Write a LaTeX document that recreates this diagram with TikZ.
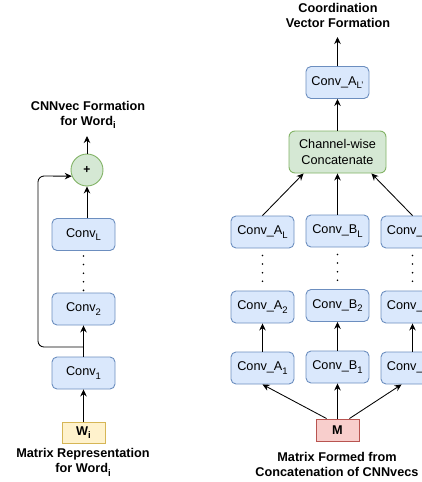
\documentclass[tikz,border=0pt]{standalone}
\usepackage{fontspec}
\setmainfont{Liberation Sans}
\usetikzlibrary{arrows.meta,calc}
\definecolor{bluefill}{HTML}{DAE8FC}
\definecolor{blueline}{HTML}{6C8EBF}
\definecolor{greenfill}{HTML}{D5E8D4}
\definecolor{greenline}{HTML}{82B366}
\definecolor{yellowfill}{HTML}{FFF2CC}
\definecolor{yellowline}{HTML}{D6B656}
\definecolor{redfill}{HTML}{F8CECC}
\definecolor{redline}{HTML}{B85450}
\newcommand{\mysub}[1]{\raisebox{-0.28em}{\fontsize{9.5}{10}\selectfont #1}}
\begin{document}
\begin{tikzpicture}[x=1pt,y=-1pt,
  txt/.style={font=\fontsize{12.7}{15.2}\selectfont},
  conv/.style={txt, draw=blueline, fill=bluefill, rounded corners=5pt, minimum width=63pt, minimum height=32pt, inner sep=0pt, line width=0.9pt},
  catbox/.style={txt, draw=greenline, fill=greenfill, rounded corners=6pt, minimum width=97pt, minimum height=42pt, inner sep=0pt, line width=0.9pt, align=center},
  plusnode/.style={circle, draw=greenline, fill=greenfill, minimum size=32pt, inner sep=0pt, line width=0.9pt, font=\bfseries\fontsize{12}{14}\selectfont},
  wbox/.style={txt, font=\bfseries\fontsize{12.7}{15.2}\selectfont, draw=yellowline, fill=yellowfill, minimum width=43pt, minimum height=21pt, inner sep=0pt, line width=0.9pt},
  mbox/.style={txt, font=\bfseries\fontsize{12.7}{15.2}\selectfont, draw=redline, fill=redfill, minimum width=43pt, minimum height=22pt, inner sep=0pt, line width=0.9pt},
  lbl/.style={font=\bfseries\fontsize{12.7}{15.2}\selectfont, align=center, inner sep=0pt},
  arr/.style={-{Stealth[length=7pt,width=6.5pt]}, line width=0.85pt},
  dotline/.style={line width=1.8pt, dash pattern=on 0pt off 8.6pt, line cap=round}
]
\useasboundingbox (0,0) rectangle (422,482);
\clip (0,0) rectangle (422,482);

% ---------- left part ----------
\node[lbl] (t1) at (88,115) {CNNvec Formation\\for Word\mysub{i}};
\coordinate (tip1) at (87,136);
\node[plusnode] (plus) at (87,170) {+};
\node[conv] (cL) at (83.5,234.5) {Conv\mysub{L}};
\node[conv] (c2) at (83.5,309) {Conv\mysub{2}};
\node[conv] (c1) at (83.5,373) {Conv\mysub{1}};
\node[wbox] (w) at (83.5,432.5) {W\mysub{i}};
\node[lbl] (t2) at (83,462.5) {Matrix Representation\\for Word\mysub{i}};
\coordinate (fb) at (83.5,347);
\coordinate (fbA) at (38,347);
\coordinate (fbB) at (38,176);

\draw[arr] (plus.north) -- (tip1);
\draw[arr] (plus.south |- cL.north) -- (plus.south);
\draw[dotline] ($(cL.south)+(0,5)$) -- ($(c2.north)+(0,-1)$);
\draw[arr] (c1.north) -- (c2.south);
\draw[arr] (w.north) -- (c1.south);
\draw[arr, rounded corners=6pt] (fb) -- (fbA) -- (fbB) -- (plus.202);

% ---------- right part ----------
\node[lbl] (t3) at (338,15.5) {Coordination\\Vector Formation};
\coordinate (tip3) at (337.5,37);
\node[conv] (top) at (337.5,82.5) {Conv\_A\mysub{L'}};
\node[catbox] (cat) at (337.5,152) {Channel-wise\\Concatenate};

\node[conv] (aL) at (262.5,232) {Conv\_A\mysub{L}};
\node[conv] (a2) at (262.5,307) {Conv\_A\mysub{2}};
\node[conv] (a1) at (262.5,368) {Conv\_A\mysub{1}};

\node[conv] (bL) at (337.5,231) {Conv\_B\mysub{L}};
\node[conv] (b2) at (337.5,305.5) {Conv\_B\mysub{2}};
\node[conv] (b1) at (337.5,367) {Conv\_B\mysub{1}};

\node[conv] (xL) at (412.5,232) {Conv\_C\mysub{L}};
\node[conv] (x2) at (412.5,307) {Conv\_C\mysub{2}};
\node[conv] (x1) at (412.5,368) {Conv\_C\mysub{1}};

\node[mbox] (m) at (337.5,430) {M};
\node[lbl] (t4) at (337,464.5) {Matrix Formed from\\Concatenation of CNNvecs};

\draw[arr] (top.north) -- (tip3);
\draw[arr] (cat.north) -- (top.south);
\draw[arr] (aL.north) -- ($(cat.south west)+(15,0)$);
\draw[arr] (bL.north) -- (cat.south);
\draw[arr] (xL.north) -- ($(cat.south east)+(-15,0)$);

\draw[dotline] ($(aL.south)+(0,7)$) -- ($(a2.north)+(0,-1)$);
\draw[dotline] ($(bL.south)+(0,7)$) -- ($(b2.north)+(0,-1)$);
\draw[dotline] ($(xL.south)+(0,7)$) -- ($(x2.north)+(0,-1)$);

\draw[arr] (a1.north) -- (a2.south);
\draw[arr] (b1.north) -- (b2.south);
\draw[arr] (x1.north) -- (x2.south);

\draw[arr] ($(m.north west)+(11,0)$) -- (a1.south);
\draw[arr] (m.north) -- (b1.south);
\draw[arr] ($(m.north east)+(-10,0)$) -- ($(x1.south west)+(21,0)$);
\end{tikzpicture}
\end{document}
